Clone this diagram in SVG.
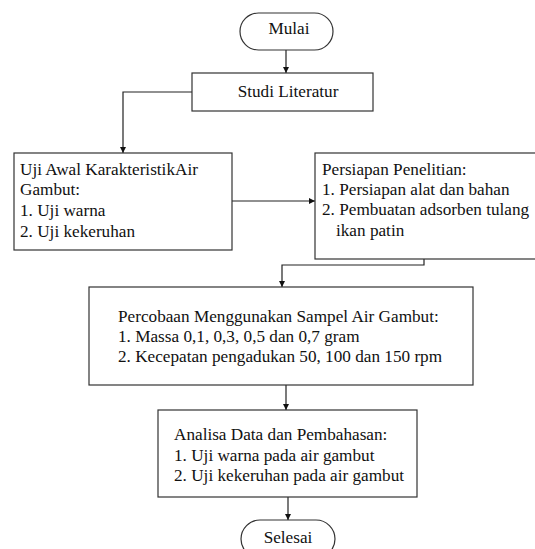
<svg xmlns="http://www.w3.org/2000/svg" width="535" height="549" viewBox="0 0 535 549">
<style>
.box{fill:#fff;stroke:#333;stroke-width:1.2}
.t{font-family:"Liberation Serif","Times New Roman",serif;font-size:17.2px;fill:#111}
.c{text-anchor:middle}
.ln{fill:none;stroke:#222;stroke-width:1.2}
</style>
<defs>
<marker id="ah" viewBox="0 0 10 10" refX="10" refY="5" markerWidth="6" markerHeight="6" markerUnits="userSpaceOnUse" orient="auto">
<path d="M0,0 L10,5 L0,10 Z" fill="#111"/>
</marker>
</defs>
<rect width="535" height="549" fill="#fff"/>
<g id="connectors">
<path class="ln" d="M286,50 V73" marker-end="url(#ah)"/>
<path class="ln" d="M192,92 H123 V153" marker-end="url(#ah)"/>
<path class="ln" d="M232,201 H315" marker-end="url(#ah)"/>
<path class="ln" d="M424,259 V265 H282 V287" marker-end="url(#ah)"/>
<path class="ln" d="M286,385 V410" marker-end="url(#ah)"/>
<path class="ln" d="M288,497 V520" marker-end="url(#ah)"/>
</g>
<g id="mulai">
<rect class="box" x="240" y="13" width="93" height="37" rx="18.5"/>
<text class="t c" font-family="Liberation Serif" x="289" y="34">Mulai</text>
</g>
<g id="studi">
<rect class="box" x="192" y="73" width="181" height="38"/>
<text class="t c" font-family="Liberation Serif" x="288" y="97">Studi Literatur</text>
</g>
<g id="uji-awal">
<rect class="box" x="14" y="153" width="218" height="97"/>
<text class="t" font-family="Liberation Serif" x="20" y="175">Uji Awal KarakteristikAir</text>
<text class="t" font-family="Liberation Serif" x="20" y="195">Gambut:</text>
<text class="t" font-family="Liberation Serif" x="20" y="216">1. Uji warna</text>
<text class="t" font-family="Liberation Serif" x="20" y="237">2. Uji kekeruhan</text>
</g>
<g id="persiapan">
<rect class="box" x="315" y="153" width="240" height="106"/>
<text class="t" font-family="Liberation Serif" x="322" y="175">Persiapan Penelitian:</text>
<text class="t" font-family="Liberation Serif" x="322" y="195">1. Persiapan alat dan bahan</text>
<text class="t" font-family="Liberation Serif" x="322" y="215">2. Pembuatan adsorben tulang</text>
<text class="t" font-family="Liberation Serif" x="336" y="236">ikan patin</text>
</g>
<g id="percobaan">
<rect class="box" x="89" y="287" width="384" height="98"/>
<text class="t" font-family="Liberation Serif" x="118" y="322">Percobaan Menggunakan Sampel Air Gambut:</text>
<text class="t" font-family="Liberation Serif" x="118" y="342">1. Massa 0,1, 0,3, 0,5 dan 0,7 gram</text>
<text class="t" font-family="Liberation Serif" x="118" y="362">2. Kecepatan pengadukan 50, 100 dan 150 rpm</text>
</g>
<g id="analisa">
<rect class="box" x="158" y="410" width="259" height="87"/>
<text class="t" font-family="Liberation Serif" x="174" y="440">Analisa Data dan Pembahasan:</text>
<text class="t" font-family="Liberation Serif" x="174" y="461">1. Uji warna pada air gambut</text>
<text class="t" font-family="Liberation Serif" x="174" y="481">2. Uji kekeruhan pada air gambut</text>
</g>
<g id="selesai">
<rect class="box" x="241" y="520" width="94" height="38" rx="19"/>
<text class="t c" font-family="Liberation Serif" x="288" y="543">Selesai</text>
</g>
</svg>
